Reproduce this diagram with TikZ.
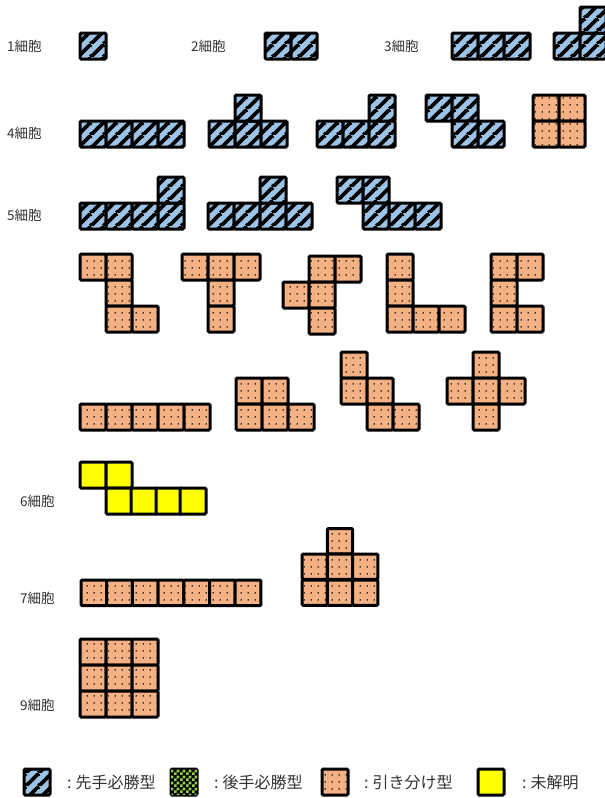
\documentclass[tikz,border=0pt]{standalone}
\usepackage{fontspec}
\setmainfont{Noto Sans CJK JP}
\usetikzlibrary{patterns.meta}
\definecolor{cBlue}{HTML}{9DC3E6}
\definecolor{cOrange}{HTML}{F4B183}
\definecolor{cGreen}{HTML}{92D050}
\definecolor{cYellow}{HTML}{FFFF00}
\definecolor{cText}{HTML}{333333}
\tikzdeclarepattern{name=dstripes, type=uncolored,
  bounding box={(0pt,0pt) and (13pt,13pt)}, tile size={(13pt,13pt)},
  code={\draw[line width=4pt] (-1pt,-1pt) -- (14pt,14pt) (-13pt,0pt) -- (0pt,13pt) (13pt,0pt) -- (26pt,13pt);}}
\tikzdeclarepattern{name=ddots, type=uncolored,
  bounding box={(0pt,0pt) and (7pt,6.5pt)}, tile size={(7pt,6.5pt)},
  code={\fill (3.5pt,3.25pt) circle[radius=0.9pt];}}
\tikzdeclarepattern{name=checks, type=uncolored,
  bounding box={(0pt,0pt) and (6pt,6pt)}, tile size={(6pt,6pt)},
  code={\fill (0pt,0pt) rectangle (3pt,3pt) (3pt,3pt) rectangle (6pt,6pt);}}
\tikzset{
  cellbase/.style={draw=black, line width=3pt, rounded corners=1.2pt},
  bcell/.style={cellbase, fill=cBlue, postaction={pattern=dstripes, pattern color=black}},
  ocell/.style={cellbase, fill=cOrange, postaction={pattern=ddots, pattern color=black}},
  gcell/.style={cellbase, fill=black, postaction={pattern=checks, pattern color=cGreen}},
  ycell/.style={cellbase, fill=cYellow},
  lab/.style={anchor=west, inner sep=0pt, font=\fontsize{13.5pt}{15pt}\selectfont, text=cText},
  leg/.style={anchor=west, inner sep=0pt, font=\fontsize{16pt}{18pt}\selectfont, text=cText}
}
\newcommand\cel[4][26]{\path[#2] (#3,#4) rectangle ++(#1,#1);}
\begin{document}
\begin{tikzpicture}[x=1pt,y=-1pt]
\useasboundingbox (0,0) rectangle (605,798);
\fill[white] (0,0) rectangle (605,798);
% ---- labels
\node[lab] (l1) at (7,46) {1細胞};
\node[lab] (l2) at (191,46) {2細胞};
\node[lab] (l3) at (384,46) {3細胞};
\node[lab] (l4) at (7,133) {4細胞};
\node[lab] (l5) at (7,215) {5細胞};
\node[lab] (l6) at (20,501) {6細胞};
\node[lab] (l7) at (20,598) {7細胞};
\node[lab] (l9) at (20,705) {9細胞};
% ---- row 1
\cel{bcell}{80}{33}
\cel{bcell}{265}{33}\cel{bcell}{291}{33}
\cel{bcell}{452}{33}\cel{bcell}{478}{33}\cel{bcell}{504}{33}
\cel{bcell}{554}{33}\cel{bcell}{580}{33}\cel{bcell}{580}{7}
% ---- row 2 (4 cells)
\cel{bcell}{80}{121}\cel{bcell}{106}{121}\cel{bcell}{132}{121}\cel{bcell}{158}{121}
\cel{bcell}{209}{121}\cel{bcell}{235}{121}\cel{bcell}{261}{121}\cel{bcell}{235}{95}
\cel{bcell}{317}{121}\cel{bcell}{343}{121}\cel{bcell}{369}{121}\cel{bcell}{369}{95}
\cel{bcell}{426}{95}\cel{bcell}{452}{95}\cel{bcell}{452}{121}\cel{bcell}{478}{121}
\cel{ocell}{533}{95}\cel{ocell}{559}{95}\cel{ocell}{533}{121}\cel{ocell}{559}{121}
% ---- row 3 (5 cells, blue)
\cel{bcell}{80}{203}\cel{bcell}{106}{203}\cel{bcell}{132}{203}\cel{bcell}{158}{203}\cel{bcell}{158}{177}
\cel{bcell}{208}{203}\cel{bcell}{234}{203}\cel{bcell}{260}{203}\cel{bcell}{286}{203}\cel{bcell}{260}{177}
\cel{bcell}{337}{177}\cel{bcell}{363}{177}\cel{bcell}{363}{203}\cel{bcell}{389}{203}\cel{bcell}{415}{203}
% ---- row 4 (orange pentominoes)
\cel{ocell}{80}{254}\cel{ocell}{106}{254}\cel{ocell}{106}{280}\cel{ocell}{106}{306}\cel{ocell}{132}{306}
\cel{ocell}{182}{254}\cel{ocell}{208}{254}\cel{ocell}{234}{254}\cel{ocell}{208}{280}\cel{ocell}{208}{306}
\cel{ocell}{309}{256}\cel{ocell}{335}{256}\cel{ocell}{283}{282}\cel{ocell}{309}{282}\cel{ocell}{309}{308}
\cel{ocell}{387}{254}\cel{ocell}{387}{280}\cel{ocell}{387}{306}\cel{ocell}{413}{306}\cel{ocell}{439}{306}
\cel{ocell}{491}{254}\cel{ocell}{517}{254}\cel{ocell}{491}{280}\cel{ocell}{491}{306}\cel{ocell}{517}{306}
% ---- row 5
\cel{ocell}{80}{404}\cel{ocell}{106}{404}\cel{ocell}{132}{404}\cel{ocell}{158}{404}\cel{ocell}{184}{404}
\cel{ocell}{236}{378}\cel{ocell}{262}{378}\cel{ocell}{236}{404}\cel{ocell}{262}{404}\cel{ocell}{288}{404}
\cel{ocell}{341}{352}\cel{ocell}{341}{378}\cel{ocell}{367}{378}\cel{ocell}{367}{404}\cel{ocell}{393}{404}
\cel{ocell}{473}{352}\cel{ocell}{447}{378}\cel{ocell}{473}{378}\cel{ocell}{499}{378}\cel{ocell}{473}{404}
% ---- 6 cells
\cel{ycell}{80}{462}\cel{ycell}{106}{462}\cel{ycell}{106}{488}\cel{ycell}{131}{488}\cel{ycell}{156}{488}\cel{ycell}{180}{488}
% ---- 7 cells
\foreach \i in {0,...,6}{\cel[25.7]{ocell}{81+25.7*\i}{580}}
\cel[25.3]{ocell}{327.3}{528.5}
\foreach \i in {0,1,2}{\cel[25.3]{ocell}{302+25.3*\i}{554}\cel[25.3]{ocell}{302+25.3*\i}{580}}
% ---- 9 cells
\foreach \i in {0,1,2}{\foreach \j in {0,1,2}{\cel{ocell}{80+26*\i}{639+26*\j}}}
% ---- legend
\cel{bcell}{24}{769}
\node[leg] (t1) at (67,782) {:\hspace{4pt}先手必勝型};
\cel{gcell}{171}{769}
\node[leg] (t2) at (214,782) {:\hspace{4pt}後手必勝型};
\cel{ocell}{322}{769}
\node[leg] (t3) at (364,782) {:\hspace{4pt}引き分け型};
\cel{ycell}{478}{769}
\node[leg] (t4) at (522,782) {:\hspace{4pt}未解明};
\end{tikzpicture}
\end{document}
